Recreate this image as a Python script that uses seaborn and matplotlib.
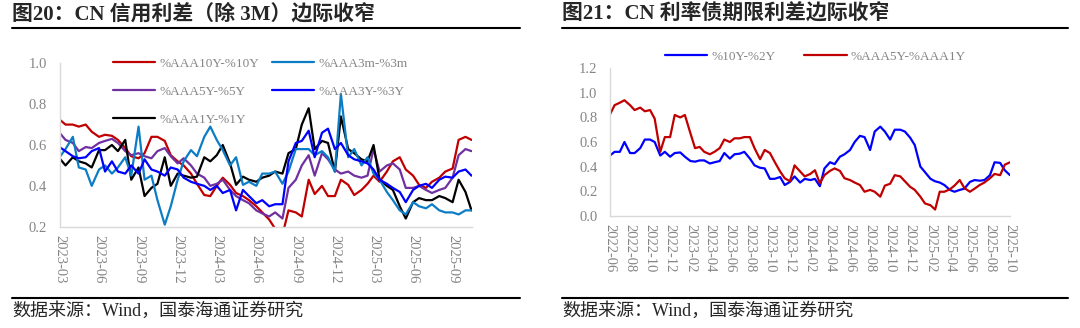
import numpy as np
import pandas as pd
import matplotlib
matplotlib.use("Agg")
import matplotlib.pyplot as plt
from matplotlib.lines import Line2D
import seaborn as sns

# ---------------- data: left panel (semi-monthly, 2023-03-01 .. 2025-10-15) ----------------
left_start = "2023-03-01"
aaa10y_10y = [0.725, 0.70, 0.70, 0.69, 0.70, 0.665, 0.64, 0.65, 0.645, 0.625,
              0.585, 0.545, 0.535, 0.56, 0.64, 0.64, 0.62, 0.55, 0.52, 0.50,
              0.46, 0.41, 0.355, 0.35, 0.40, 0.44, 0.405, 0.365, 0.35, 0.33,
              0.30, 0.27, 0.235, 0.19, 0.16, 0.28, 0.27, 0.25, 0.43, 0.36,
              0.40, 0.35, 0.35, 0.43, 0.405, 0.355, 0.38, 0.41, 0.45, 0.42,
              0.47, 0.52, 0.54, 0.48, 0.45, 0.405, 0.39, 0.42, 0.44, 0.47,
              0.485, 0.625, 0.64, 0.625]
aaa3m_3m = [0.54, 0.58, 0.64, 0.49, 0.48, 0.40, 0.48, 0.50, 0.46, 0.49,
            0.54, 0.45, 0.69, 0.43, 0.45, 0.33, 0.21, 0.30, 0.43, 0.52,
            0.575, 0.545, 0.64, 0.69, 0.625, 0.575, 0.50, 0.54, 0.405, 0.42,
            0.40, 0.46, 0.46, 0.47, 0.41, 0.47, 0.58, 0.58, 0.58, 0.55,
            0.57, 0.54, 0.47, 0.85, 0.54, 0.58, 0.50, 0.54, 0.46, 0.43,
            0.37, 0.33, 0.28, 0.26, 0.32, 0.30, 0.29, 0.31, 0.28, 0.27,
            0.27, 0.26, 0.28, 0.28]
aaa5y_5y = [0.66, 0.625, 0.61, 0.57, 0.59, 0.585, 0.61, 0.62, 0.63, 0.61,
            0.57, 0.55, 0.56, 0.545, 0.535, 0.57, 0.585, 0.545, 0.51, 0.535,
            0.50, 0.46, 0.44, 0.40, 0.41, 0.43, 0.38, 0.35, 0.33, 0.315,
            0.28, 0.265, 0.25, 0.27, 0.24, 0.39, 0.43, 0.50, 0.55, 0.45,
            0.56, 0.53, 0.48, 0.46, 0.47, 0.45, 0.44, 0.45, 0.58, 0.47,
            0.50, 0.51, 0.48, 0.39, 0.39, 0.40, 0.38, 0.365, 0.38, 0.39,
            0.44, 0.55, 0.58, 0.57]
aaa3y_3y = [0.59, 0.57, 0.545, 0.535, 0.54, 0.57, 0.585, 0.47, 0.52, 0.47,
            0.46, 0.50, 0.46, 0.53, 0.48, 0.47, 0.45, 0.49, 0.48, 0.44,
            0.42, 0.41, 0.40, 0.38, 0.40, 0.365, 0.38, 0.28, 0.38, 0.35,
            0.315, 0.33, 0.30, 0.31, 0.31, 0.52, 0.61, 0.62, 0.67, 0.54,
            0.66, 0.68, 0.58, 0.61, 0.55, 0.53, 0.52, 0.51, 0.48, 0.43,
            0.41, 0.39, 0.37, 0.32, 0.38, 0.40, 0.41, 0.39, 0.43, 0.445,
            0.44, 0.47, 0.48, 0.45]
aaa1y_1y = [0.535, 0.50, 0.54, 0.52, 0.51, 0.49, 0.575, 0.575, 0.60, 0.57,
            0.625, 0.43, 0.49, 0.35, 0.39, 0.41, 0.54, 0.40, 0.46, 0.45,
            0.44, 0.445, 0.54, 0.52, 0.55, 0.60, 0.51, 0.405, 0.445, 0.43,
            0.42, 0.44, 0.45, 0.47, 0.46, 0.56, 0.58, 0.70, 0.78, 0.58,
            0.62, 0.61, 0.47, 0.74, 0.58, 0.56, 0.53, 0.52, 0.60, 0.43,
            0.40, 0.38, 0.30, 0.24, 0.32, 0.34, 0.33, 0.33, 0.35, 0.34,
            0.32, 0.43, 0.37, 0.28]
left_labels = ["%AAA10Y-%10Y", "%AAA5Y-%5Y", "%AAA1Y-%1Y", "%AAA3m-%3m", "%AAA3Y-%3Y"]
left_series = [aaa10y_10y, aaa5y_5y, aaa1y_1y, aaa3m_3m, aaa3y_3y]
left_colors = ["#C00000", "#7030A0", "#000000", "#0B7DC6", "#0000FF"]

# ---------------- data: right panel (semi-monthly, 2022-06-01 .. 2025-10-01) ----------------
right_start = "2022-06-01"
y10_2y = [0.49, 0.52, 0.52, 0.60, 0.51, 0.51, 0.55, 0.62, 0.62, 0.60,
          0.49, 0.52, 0.48, 0.51, 0.515, 0.48, 0.445, 0.44, 0.45, 0.45,
          0.425, 0.435, 0.445, 0.51, 0.465, 0.50, 0.505, 0.52, 0.465, 0.41,
          0.39, 0.385, 0.30, 0.30, 0.315, 0.25, 0.275, 0.32, 0.27, 0.30,
          0.29, 0.30, 0.24, 0.385, 0.435, 0.42, 0.48, 0.50, 0.535, 0.60,
          0.65, 0.64, 0.535, 0.685, 0.725, 0.685, 0.62, 0.70, 0.70, 0.685,
          0.635, 0.575, 0.40, 0.355, 0.30, 0.28, 0.27, 0.25, 0.21, 0.195,
          0.21, 0.22, 0.275, 0.29, 0.285, 0.29, 0.33, 0.435, 0.43, 0.37,
          0.33]
aaa5y_aaa1y = [0.825, 0.90, 0.92, 0.94, 0.90, 0.86, 0.88, 0.85, 0.86, 0.79,
               0.52, 0.64, 0.64, 0.82, 0.80, 0.82, 0.67, 0.55, 0.56, 0.52,
               0.50, 0.52, 0.55, 0.62, 0.60, 0.63, 0.63, 0.64, 0.64, 0.55,
               0.46, 0.535, 0.51, 0.44, 0.36, 0.305, 0.28, 0.41, 0.36, 0.32,
               0.34, 0.37, 0.265, 0.33, 0.365, 0.385, 0.365, 0.305, 0.29, 0.27,
               0.25, 0.195, 0.21, 0.195, 0.155, 0.245, 0.26, 0.33, 0.32, 0.28,
               0.235, 0.21, 0.155, 0.10, 0.085, 0.05, 0.195, 0.195, 0.215, 0.245,
               0.29, 0.225, 0.195, 0.22, 0.25, 0.27, 0.305, 0.34, 0.33, 0.415,
               0.435]
right_labels = ["%10Y-%2Y", "%AAA5Y-%AAA1Y"]
right_series = [y10_2y, aaa5y_aaa1y]
right_colors = ["#0000FF", "#C00000"]

left_ticks = pd.date_range("2023-03-01", "2025-09-01", freq="3MS")
right_ticks = pd.date_range("2022-06-01", "2025-10-01", freq="2MS")

# ---------------- style ----------------
sns.set_theme(style="white")
SERIF_CJK = ["Liberation Serif", "Noto Sans CJK SC"]
plt.rcParams["font.family"] = SERIF_CJK
GRAY = "#858585"
AXC = "#d9d9d9"

W, H = 1080, 328
fig = plt.figure(figsize=(W / 100, H / 100), dpi=100)
fig.patch.set_facecolor("white")


def px_axes(x0, y0, x1, y1):
    return fig.add_axes([x0 / W, 1 - y1 / H, (x1 - x0) / W, (y1 - y0) / H])


def style_axes(ax):
    for s in ["top", "right"]:
        ax.spines[s].set_visible(False)
    for s in ["left", "bottom"]:
        ax.spines[s].set_color(AXC)
        ax.spines[s].set_linewidth(1.0)
    ax.tick_params(axis="both", length=4, width=0.8, color=AXC,
                   labelcolor=GRAY, labelsize=10.5)
    ax.tick_params(axis="y", pad=5)
    ax.tick_params(axis="x", pad=2)
    ax.set_xlabel("")
    ax.set_ylabel("")
    ax.grid(False)


def long_df(start, labels, series):
    n = len(series[0])
    dates = pd.date_range(start, periods=n, freq="SMS")
    frames = []
    for lab, vals in zip(labels, series):
        frames.append(pd.DataFrame({"date": dates, "value": vals, "series": lab}))
    return pd.concat(frames, ignore_index=True), dates


# ---------------- left panel ----------------
ax1 = px_axes(59.5, 63.3, 471.5, 226.7)
df1, d1 = long_df(left_start, left_labels, left_series)
sns.lineplot(data=df1, x="date", y="value", hue="series", hue_order=left_labels,
             palette=left_colors, linewidth=1.6, ax=ax1, legend=False)
ax1.set_ylim(0.2, 1.0)
yt1 = np.arange(0.2, 1.01, 0.2)
ax1.set_yticks(yt1)
ax1.set_yticklabels([f"{v:.1f}" for v in yt1])
ax1.set_xlim(d1[0], d1[-1])
ax1.set_xticks(left_ticks)
ax1.set_xticklabels([t.strftime("%Y-%m") for t in left_ticks], rotation=270)
style_axes(ax1)
h1 = [Line2D([], [], color=c, lw=1.6) for c in left_colors]
ax1.legend(h1, left_labels, ncol=2, loc="upper left", bbox_to_anchor=(0.13, 1.035),
           frameon=False, handlelength=3.2, handletextpad=0.3, columnspacing=1.0,
           labelspacing=1.2, borderpad=0, borderaxespad=0, fontsize=9.5,
           labelcolor=GRAY)

# ---------------- right panel ----------------
ax2 = px_axes(610, 68.3, 1010, 215.7)
df2, d2 = long_df(right_start, right_labels, right_series)
sns.lineplot(data=df2, x="date", y="value", hue="series", hue_order=right_labels,
             palette=right_colors, linewidth=1.6, ax=ax2, legend=False)
ax2.set_ylim(0.0, 1.2)
yt2 = np.arange(0.0, 1.21, 0.2)
ax2.set_yticks(yt2)
ax2.set_yticklabels([f"{v:.1f}" for v in yt2])
ax2.set_xlim(d2[0], d2[-1])
ax2.set_xticks(right_ticks)
ax2.set_xticklabels([t.strftime("%Y-%m") for t in right_ticks], rotation=270)
style_axes(ax2)
h2 = [Line2D([], [], color=c, lw=1.6) for c in right_colors]
ax2.legend(h2, right_labels, ncol=2, loc="upper left", bbox_to_anchor=(0.1375, 1.12),
           frameon=False, handlelength=3.2, handletextpad=0.3, columnspacing=2.2,
           borderpad=0, borderaxespad=0, fontsize=9.5, labelcolor=GRAY)

# ---------------- titles, rules, sources ----------------
fig.text(12 / W, 1 - 14 / H, "图20：CN 信用利差（除 3M）边际收窄", fontsize=15,
         fontweight="bold", va="center", ha="left", family=SERIF_CJK)
fig.text(562 / W, 1 - 14 / H, "图21：CN 利率债期限利差边际收窄", fontsize=15,
         fontweight="bold", va="center", ha="left", family=SERIF_CJK)
for (xa, xb) in [(12, 520), (562, 1068)]:
    fig.add_artist(Line2D([xa / W, xb / W], [1 - 28 / H] * 2, color="black", lw=1.5))
    fig.add_artist(Line2D([xa / W, xb / W], [1 - 298 / H] * 2, color="black", lw=1.5))
fig.text(12 / W, 1 - 311 / H, "数据来源：Wind，国泰海通证券研究", fontsize=13,
         va="center", ha="left", family=SERIF_CJK)
fig.text(562 / W, 1 - 311 / H, "数据来源：Wind，国泰海通证券研究", fontsize=13,
         va="center", ha="left", family=SERIF_CJK)

fig.savefig("out.png", dpi=100)
